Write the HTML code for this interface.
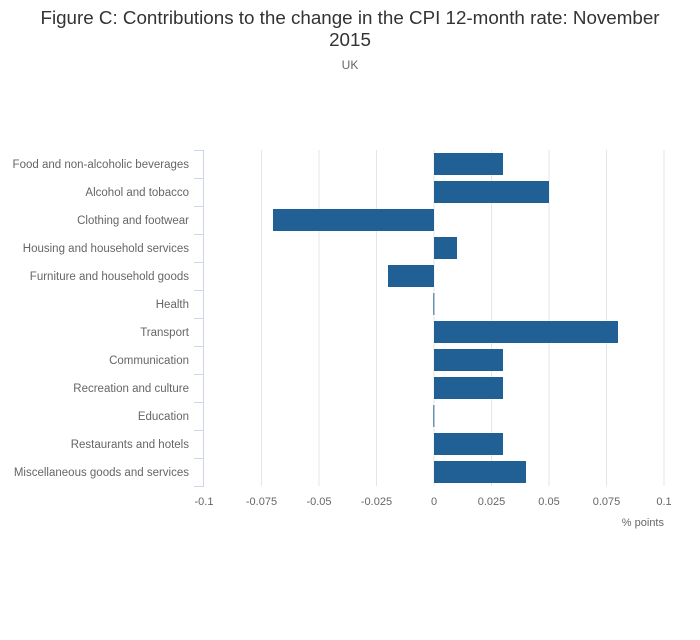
<!DOCTYPE html>
<html><head><meta charset="utf-8"><style>
body{margin:0;background:#fff;font-family:"Liberation Sans",sans-serif}
svg text{font-family:"Liberation Sans",sans-serif}
</style></head><body>
<svg width="700" height="635" viewBox="0 0 700 635">
<text x="350" y="24" text-anchor="middle" font-size="18.8" fill="#333">Figure C: Contributions to the change in the CPI 12-month rate: November</text>
<text x="350" y="46" text-anchor="middle" font-size="18.8" fill="#333">2015</text>
<text x="350" y="69" text-anchor="middle" font-size="12" fill="#666">UK</text>
<g id="grid"></g><g id="bars"></g><g id="yaxis"></g><g id="xaxis"></g>
<text x="664" y="526" text-anchor="end" font-size="11" fill="#666">% points</text>
</svg>
<script>
const categories=["Food and non-alcoholic beverages","Alcohol and tobacco","Clothing and footwear","Housing and household services","Furniture and household goods","Health","Transport","Communication","Recreation and culture","Education","Restaurants and hotels","Miscellaneous goods and services"];
const values=[0.03,0.05,-0.07,0.01,-0.02,-0.0003,0.08,0.03,0.03,-0.0003,0.03,0.04];
const ticks=[-0.1,-0.075,-0.05,-0.025,0,0.025,0.05,0.075,0.1];
const tickLabels=["-0.1","-0.075","-0.05","-0.025","0","0.025","0.05","0.075","0.1"];
const NS="http://www.w3.org/2000/svg";
const x0=204,x1=664,xmin=-0.1,xmax=0.1,plotTop=150,band=28;
const X=v=>x0+(v-xmin)/(xmax-xmin)*(x1-x0);
function mk(t,a,p){const e=document.createElementNS(NS,t);for(const k in a)e.setAttribute(k,a[k]);p.appendChild(e);return e;}
const g=document.getElementById('grid'),b=document.getElementById('bars'),ya=document.getElementById('yaxis'),xa=document.getElementById('xaxis');
const plotBottom=plotTop+band*categories.length;
ticks.forEach((t,i)=>{
 if(i>0){const l=mk('line',{x1:X(t),x2:X(t),y1:plotTop,y2:plotBottom,stroke:'#e6e6e6','stroke-width':1},g);
 
 }
 const tx=mk('text',{x:X(t),y:plotBottom+19,'text-anchor':'middle','font-size':11,fill:'#666'},xa);
 tx.textContent=tickLabels[i];
 
 
});
const ax=mk('line',{x1:203.5,x2:203.5,y1:plotTop,y2:plotBottom,stroke:'#ccd6eb','stroke-width':1},ya);


for(let i=0;i<=categories.length;i++){
 const tk=mk('line',{x1:194,x2:204,y1:plotTop+i*band+0.5,y2:plotTop+i*band+0.5,stroke:'#ccd6eb','stroke-width':1},ya);
 
 
}
categories.forEach((c,i)=>{
 const cy=plotTop+i*band+band/2;
 const t=mk('text',{x:189,y:cy+4,'text-anchor':'end','font-size':11.5,fill:'#666'},ya);
 t.textContent=c;
 
 
 const v=values[i];const xa0=Math.min(X(0),X(v)),w=Math.max(Math.abs(X(v)-X(0)),1);
 const r=mk('rect',{x:xa0,y:cy-11,width:w,height:22,fill:'#206095'},b);
 
 
});
</script>
</body></html>
